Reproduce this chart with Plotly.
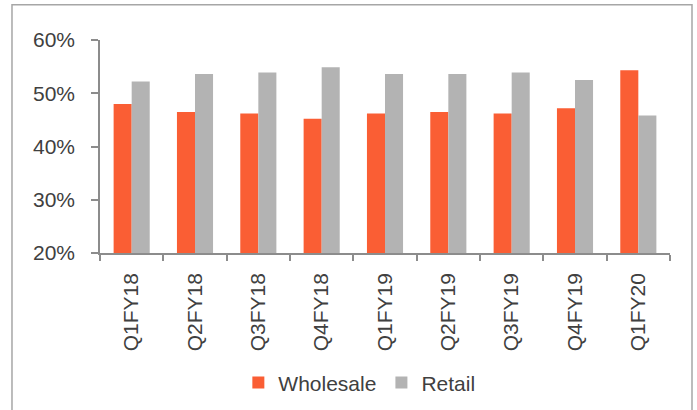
import plotly.graph_objects as go

categories = ["Q1FY18", "Q2FY18", "Q3FY18", "Q4FY18", "Q1FY19", "Q2FY19", "Q3FY19", "Q4FY19", "Q1FY20"]
wholesale = [48.0, 46.5, 46.2, 45.2, 46.2, 46.5, 46.2, 47.2, 54.3]
retail = [52.2, 53.6, 53.9, 54.9, 53.6, 53.6, 53.9, 52.5, 45.8]
y_ticks = [20, 30, 40, 50, 60]
y_tick_labels = ["20%", "30%", "40%", "50%", "60%"]

FONT = "Liberation Sans, Arial, sans-serif"
TXT = "#404040"
AX = "#8C8C8C"

fig = go.Figure()
fig.add_trace(go.Bar(name="Wholesale", x=categories, y=wholesale,
                     marker=dict(color="#FA5E34", line=dict(width=0))))
fig.add_trace(go.Bar(name="Retail", x=categories, y=retail,
                     marker=dict(color="#B3B3B3", line=dict(width=0))))

fig.update_layout(
    width=697, height=410,
    margin=dict(l=100, r=27, t=40, b=157, autoexpand=False),
    paper_bgcolor="white", plot_bgcolor="white",
    barmode="group", bargap=0.43, bargroupgap=0,
    font=dict(family=FONT, color=TXT, size=20),
    showlegend=True,
    legend=dict(orientation="h", x=0.455, xanchor="center", y=-0.61, yanchor="middle",
                font=dict(size=21, color=TXT), itemwidth=30, tracegroupgap=0),
    xaxis=dict(
        type="category", showline=True, linecolor=AX, linewidth=1.5,
        ticks="outside", tickson="boundaries", ticklen=6, tickcolor=AX, tickwidth=1.5,
        tickangle=-90, tickfont=dict(size=21, color=TXT), showgrid=False,
        ticklabelstandoff=10, automargin=False,
    ),
    yaxis=dict(
        range=[20, 60], tickvals=y_ticks, ticktext=y_tick_labels,
        showline=True, linecolor=AX, linewidth=1.5,
        ticks="outside", ticklen=7, tickcolor=AX, tickwidth=1.5,
        ticklabelstandoff=12, automargin=False,
        tickfont=dict(size=21, color=TXT), showgrid=False, zeroline=False,
    ),
    shapes=[dict(type="rect", xref="paper", yref="paper",
                 x0=-0.1544, x1=1.0386, y0=-0.75, y1=1.165,
                 line=dict(color="#A6A6A6", width=1.5), layer="below")],
)

fig.write_html("out.html", config={"displayModeBar": False},
               post_script="document.body.style.margin='0';document.body.style.overflow='hidden';")
